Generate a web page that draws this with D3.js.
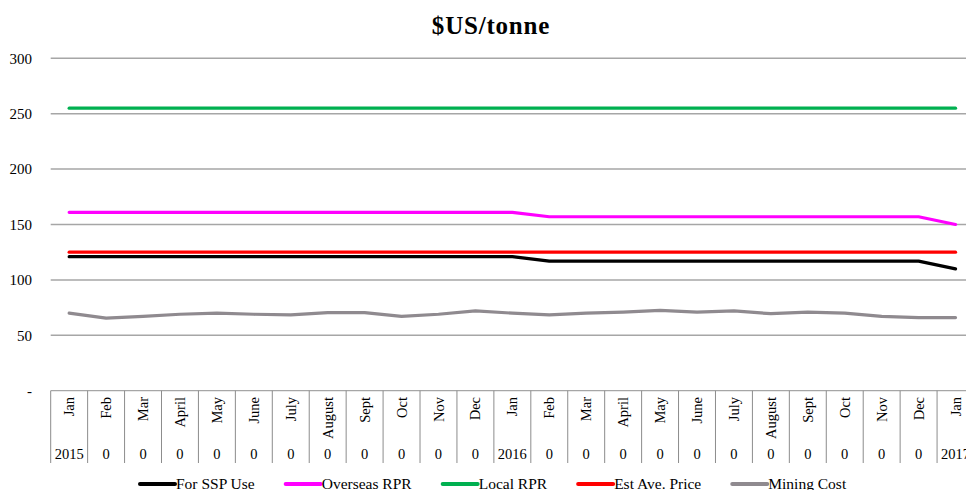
<!DOCTYPE html>
<html>
<head>
<meta charset="utf-8">
<script src="https://cdn.jsdelivr.net/npm/d3@7"></script>
<style>
  html, body { margin: 0; padding: 0; background: #fff; }
  svg text { font-family: "Liberation Serif", "DejaVu Serif", serif; }
</style>
</head>
<body>
<svg id="chart" width="966" height="490" font-family="Liberation Serif, DejaVu Serif, serif"></svg>
<script>
// Monthly category labels (two-level axis: month, then year row)
const months = ["Jan","Feb","Mar","April","May","June","July","August","Sept","Oct","Nov","Dec",
                "Jan","Feb","Mar","April","May","June","July","August","Sept","Oct","Nov","Dec","Jan"];
const years = ["2015","0","0","0","0","0","0","0","0","0","0","0",
               "2016","0","0","0","0","0","0","0","0","0","0","0","2017"];

// Price series, $US/tonne
const forSSPUse    = [121,121,121,121,121,121,121,121,121,121,121,121,121,117,117,117,117,117,117,117,117,117,117,117,110];
const overseasRPR  = [161,161,161,161,161,161,161,161,161,161,161,161,161,157,157,157,157,157,157,157,157,157,157,157,150];
const localRPR     = [255,255,255,255,255,255,255,255,255,255,255,255,255,255,255,255,255,255,255,255,255,255,255,255,255];
const estAvePrice  = [125,125,125,125,125,125,125,125,125,125,125,125,125,125,125,125,125,125,125,125,125,125,125,125,125];
const miningCost   = [70,65.5,67,69,70,69,68.5,70.5,70.5,67,69,72,70,68.5,70,71,72.5,71,72,69.5,71,70,67,66,66];

const yTicks = [0,50,100,150,200,250,300];
const yTickLabels = ["-","50","100","150","200","250","300"];

const seriesNames  = ["For SSP Use","Overseas RPR","Local RPR","Est Ave. Price","Mining Cost"];
const seriesColors = ["#000000","#ff00ff","#00b050","#ff0000","#8f8a8f"];
const seriesData   = [forSSPUse, overseasRPR, localRPR, estAvePrice, miningCost];

const FONT = "Liberation Serif, DejaVu Serif, serif";
const svg = d3.select("#chart");

const plotLeft = 50.7, plotRight = 974;
const x = d3.scaleBand().domain(d3.range(months.length)).range([plotLeft, plotRight]).paddingInner(0).paddingOuter(0);
const y = d3.scaleLinear().domain([0, 300]).range([390.7, 58.3]);
const cx = i => x(i) + x.bandwidth() / 2;

// Title
svg.append("text")
  .attr("x", 491).attr("y", 34)
  .attr("text-anchor", "middle")
  .attr("font-family", FONT)
  .attr("font-weight", "bold")
  .attr("font-size", 25)
  .attr("letter-spacing", 0.8)
  .text("$US/tonne");

// Horizontal gridlines
svg.append("g")
  .selectAll("line")
  .data(yTicks.filter(t => t > 0))
  .join("line")
  .attr("x1", plotLeft).attr("x2", 966)
  .attr("y1", d => y(d)).attr("y2", d => y(d))
  .attr("stroke", "#a6a6a6").attr("stroke-width", 1.5);

// Y axis tick labels
const yAxis = d3.axisLeft(y).tickValues(yTicks).tickFormat((d, i) => yTickLabels[i]).tickSize(0).tickPadding(0);
const yg = svg.append("g").attr("transform", "translate(32,0)").call(yAxis);
yg.attr("font-family", FONT).attr("font-size", 15);
yg.select(".domain").remove();
yg.selectAll("text").attr("fill", "#000");

// Category axis baseline
svg.append("line")
  .attr("x1", plotLeft).attr("x2", 966)
  .attr("y1", y(0)).attr("y2", y(0))
  .attr("stroke", "#a6a6a6").attr("stroke-width", 1.2);

// Category table separators
const tableTop = y(0), tableBottom = 463;
svg.append("g")
  .selectAll("line")
  .data(d3.range(months.length + 1))
  .join("line")
  .attr("x1", i => i < months.length ? x(i) : plotRight)
  .attr("x2", i => i < months.length ? x(i) : plotRight)
  .attr("y1", tableTop).attr("y2", tableBottom)
  .attr("stroke", "#8c8c8c").attr("stroke-width", 1);

// Month labels (rotated)
svg.append("g")
  .attr("font-family", FONT)
  .selectAll("text")
  .data(months)
  .join("text")
  .attr("transform", (d, i) => `translate(${cx(i)},397) rotate(-90)`)
  .attr("text-anchor", "end")
  .attr("dy", "0.35em")
  .attr("font-size", 14.5)
  .text(d => d);

// Year row labels
svg.append("g")
  .attr("font-family", FONT)
  .selectAll("text")
  .data(years)
  .join("text")
  .attr("x", (d, i) => cx(i))
  .attr("y", 459)
  .attr("text-anchor", "middle")
  .attr("font-size", 14.5)
  .text(d => d);

// Series lines
const line = d3.line().x((d, i) => cx(i)).y(d => y(d));
const drawOrder = [4, 2, 1, 0, 3];
svg.append("g")
  .selectAll("path")
  .data(drawOrder)
  .join("path")
  .attr("d", k => line(seriesData[k]))
  .attr("fill", "none")
  .attr("stroke", k => seriesColors[k])
  .attr("stroke-width", 3.2)
  .attr("stroke-linejoin", "round")
  .attr("stroke-linecap", "round");

// Legend
const legend = svg.append("g").attr("font-family", FONT);
let lx = 140;
seriesNames.forEach((name, k) => {
  legend.append("line")
    .attr("x1", lx).attr("x2", lx + 35)
    .attr("y1", 484).attr("y2", 484)
    .attr("stroke", seriesColors[k]).attr("stroke-width", 4).attr("stroke-linecap", "round");
  const t = legend.append("text")
    .attr("x", lx + 36).attr("y", 488.5)
    .attr("font-size", 15.5)
    .text(name);
  lx += 36 + t.node().getComputedTextLength() + 31;
});
</script>
</body>
</html>
